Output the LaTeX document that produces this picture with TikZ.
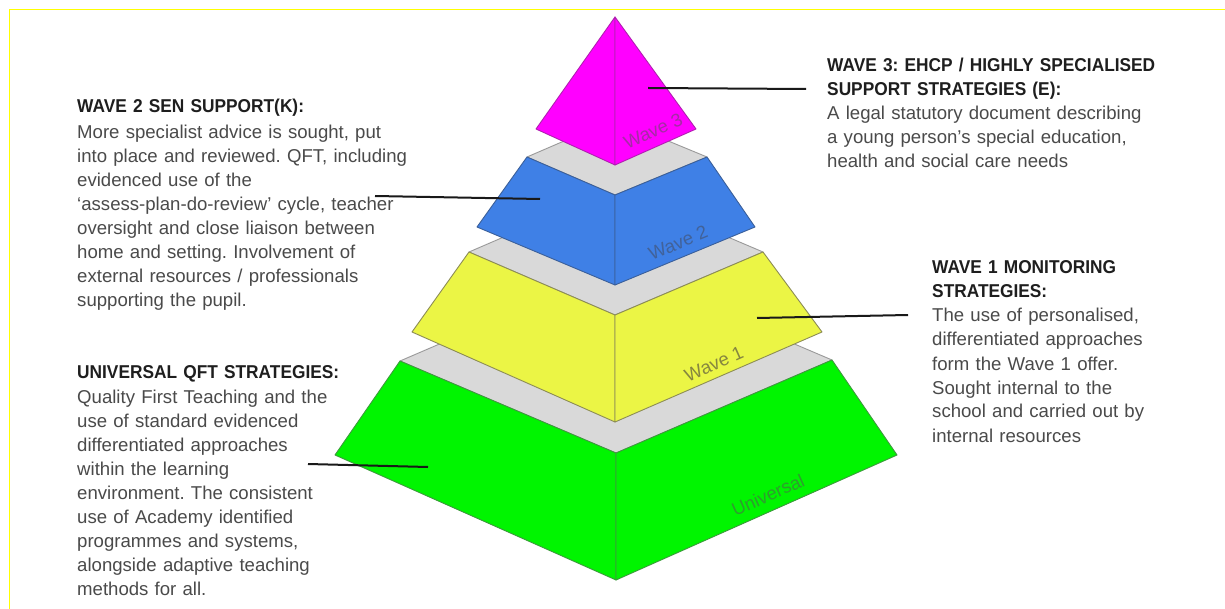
\documentclass[tikz,border=0pt]{standalone}
\usepackage{fontspec}
\setmainfont{Liberation Sans}
\newfontfamily\titlefont[FakeStretch=0.93]{Liberation Sans}
\frenchspacing
\definecolor{framey}{HTML}{FFFF00}
\definecolor{lidgray}{HTML}{D9D9D9}
\definecolor{lidedge}{HTML}{9A9A9A}
\definecolor{ugreen}{HTML}{00F500}
\definecolor{ugreenedge}{HTML}{3C9A3C}
\definecolor{wyellow}{HTML}{EBF545}
\definecolor{wyellowedge}{HTML}{8C8C55}
\definecolor{wblue}{HTML}{3F80E6}
\definecolor{wblueedge}{HTML}{3A5F9A}
\definecolor{wmag}{HTML}{FF00FF}
\definecolor{wmagedge}{HTML}{B020B0}
\definecolor{bodygray}{HTML}{4A4A4A}
\definecolor{titleblack}{HTML}{1E1E1E}
\definecolor{lblgreen}{HTML}{2E9E2E}
\definecolor{lblyellow}{HTML}{86863F}
\definecolor{lblblue}{HTML}{41629A}
\definecolor{lblmag}{HTML}{A52CA5}
\begin{document}
\begin{tikzpicture}[x=1pt,y=-1pt,
  lid/.style={fill=lidgray, draw=lidedge, line width=0.9pt, line join=round},
  face/.style={line width=0.9pt, line join=round},
  lbl/.style={font=\fontsize{18.5}{18.5}\selectfont, inner sep=0, rotate=24},
  blurb/.style={anchor=base west, align=left, text width=430pt, inner sep=0,
    font=\fontsize{18.6}{24}\selectfont, text=bodygray},
  conn/.style={line width=2pt, draw=black!90}]
\useasboundingbox (0,0) rectangle (1225,609);
\fill[white] (0,0) rectangle (1225,609);
\draw[framey, line width=1.8pt] (9.5,609) -- (9.5,9.5) -- (1225,9.5);

% ---------- Universal level ----------
\coordinate (uL) at (400,361);
\coordinate (uF) at (616,453);
\coordinate (uR) at (832,360);
\coordinate (uB) at (616,268);
\coordinate (uLb) at (335,455);
\coordinate (uFb) at (616,580);
\coordinate (uRb) at (897,455);
\filldraw[lid] (uL) -- (uF) -- (uR) -- (uB) -- cycle;
\filldraw[face, fill=ugreen, draw=ugreenedge] (uL) -- (uF) -- (uFb) -- (uLb) -- cycle;
\filldraw[face, fill=ugreen, draw=ugreenedge] (uF) -- (uR) -- (uRb) -- (uFb) -- cycle;
\node[lbl, text=lblgreen] (ulabel) at (768,495) {Universal};

% ---------- Wave 1 level ----------
\coordinate (wL) at (469,252);
\coordinate (wF) at (615,315);
\coordinate (wR) at (763,252);
\coordinate (wB) at (615,189);
\coordinate (wLb) at (412,332);
\coordinate (wFb) at (615,422);
\coordinate (wRb) at (822,332);
\filldraw[lid] (wL) -- (wF) -- (wR) -- (wB) -- cycle;
\filldraw[face, fill=wyellow, draw=wyellowedge] (wL) -- (wF) -- (wFb) -- (wLb) -- cycle;
\filldraw[face, fill=wyellow, draw=wyellowedge] (wF) -- (wR) -- (wRb) -- (wFb) -- cycle;
\node[lbl, text=lblyellow] (w1label) at (714,364) {Wave 1};

% ---------- Wave 2 level ----------
\coordinate (vL) at (527,157);
\coordinate (vF) at (615,195);
\coordinate (vR) at (707,157);
\coordinate (vB) at (615,119);
\coordinate (vLb) at (477,227);
\coordinate (vFb) at (615,285);
\coordinate (vRb) at (755,227);
\filldraw[lid] (vL) -- (vF) -- (vR) -- (vB) -- cycle;
\filldraw[face, fill=wblue, draw=wblueedge] (vL) -- (vF) -- (vFb) -- (vLb) -- cycle;
\filldraw[face, fill=wblue, draw=wblueedge] (vF) -- (vR) -- (vRb) -- (vFb) -- cycle;
\node[lbl, text=lblblue, rotate=-1.5] (w2label) at (678,243) {Wave 2};

% ---------- Wave 3 apex ----------
\coordinate (apex) at (615,17);
\coordinate (tL) at (536,129);
\coordinate (tF) at (615,165);
\coordinate (tR) at (696,129);
\filldraw[face, fill=wmag, draw=wmagedge] (apex) -- (tL) -- (tF) -- cycle;
\filldraw[face, fill=wmag, draw=wmagedge] (apex) -- (tF) -- (tR) -- cycle;
\node[lbl, text=lblmag] (w3label) at (653,131) {Wave 3};

% ---------- text blocks ----------
\node[blurb] (t3) at (827,72) {{\titlefont\bfseries\color{titleblack}WAVE 3: EHCP / HIGHLY SPECIALISED\\
SUPPORT STRATEGIES (E):}\\
A legal statutory document describing\\
a young person’s special education,\\
health and social care needs};

\node[blurb] (t2) at (77,113) {{\titlefont\bfseries\color{titleblack}WAVE 2 SEN SUPPORT(K):}\\[1.5pt]
More specialist advice is sought, put\\
into place and reviewed. QFT, including\\
evidenced use of the\\
‘assess-plan-do-review’ cycle, teacher\\
oversight and close liaison between\\
home and setting. Involvement of\\
external resources / professionals\\
supporting the pupil.};

\node[blurb] (t1) at (932,274) {{\titlefont\bfseries\color{titleblack}WAVE 1 MONITORING\\
STRATEGIES:}\\
The use of personalised,\\
differentiated approaches\\
form the Wave 1 offer.\\
Sought internal to the\\
school and carried out by\\
internal resources};

\node[blurb] (tu) at (77,378) {{\titlefont\bfseries\color{titleblack}UNIVERSAL QFT STRATEGIES:}\\[1.5pt]
Quality First Teaching and the\\
use of standard evidenced\\
differentiated approaches\\
within the learning\\
environment. The consistent\\
use of Academy identified\\
programmes and systems,\\
alongside adaptive teaching\\
methods for all.};

% ---------- connectors ----------
\coordinate (c3a) at (648,88);
\coordinate (c3b) at (806,89);
\draw[conn] (c3a) -- (c3b);
\coordinate (c2a) at (375,196);
\coordinate (c2b) at (540,199);
\draw[conn] (c2a) -- (c2b);
\coordinate (c1a) at (757,318);
\coordinate (c1b) at (908,315);
\draw[conn] (c1a) -- (c1b);
\coordinate (cua) at (308,464);
\coordinate (cub) at (428,467);
\draw[conn] (cua) -- (cub);
\end{tikzpicture}
\end{document}
